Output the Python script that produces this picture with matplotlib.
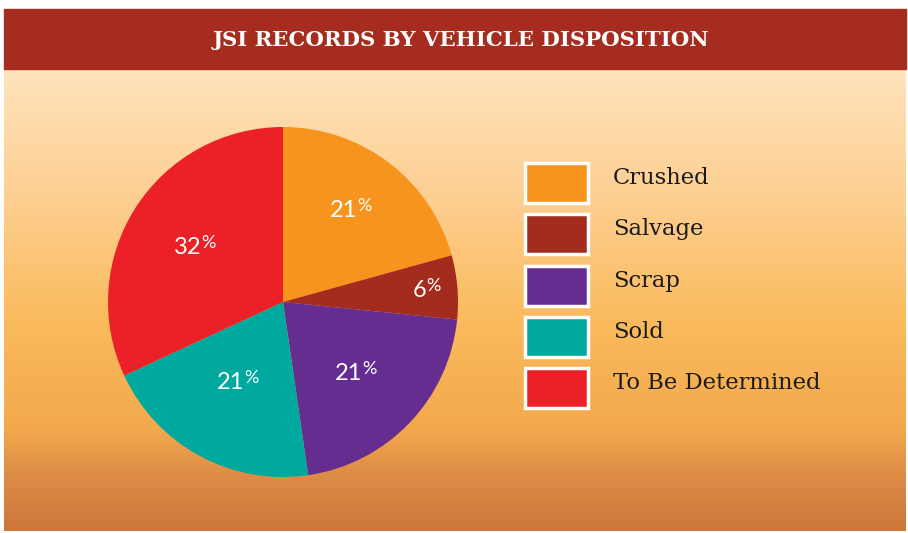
import numpy as np
import matplotlib
matplotlib.use("Agg")
import matplotlib.pyplot as plt
from matplotlib.colors import LinearSegmentedColormap
from matplotlib.patches import Rectangle

title = "JSI RECORDS BY VEHICLE DISPOSITION"
labels = ["Crushed", "Salvage", "Scrap", "Sold", "To Be Determined"]
shares = [20.7, 5.9, 21.1, 20.4, 31.9]
pct_text = ["21", "6", "21", "21", "32"]
colors = ["#F7941D", "#A42C1E", "#662D91", "#00A99D", "#EC2027"]

W, H = 908, 533
fig = plt.figure(figsize=(W / 100, H / 100), dpi=100)
ax = fig.add_axes([0, 0, 1, 1])

# background gradient (light peach at top -> burnt orange at bottom)
bg = LinearSegmentedColormap.from_list("bg", [
    (0.0, "#FFE3BC"), (0.25, "#FDD196"), (0.55, "#FABA5C"),
    (0.78, "#F2A94C"), (0.88, "#DD8C46"), (1.0, "#CE763B")])
grad = np.linspace(0, 1, 256).reshape(-1, 1)
ax.imshow(grad, cmap=bg, aspect="auto", extent=(4, 906, 2, H - 69), zorder=0)

# title bar
ax.add_patch(Rectangle((4, H - 69), 902, 60, color="#A52C1F", zorder=1))
ax.text(461, H - 40, title, color="white", fontsize=15.3, fontweight="bold",
        family="DejaVu Serif", ha="center", va="center", zorder=2)

# pie
cx, cy, r = 283, H - 302, 175
wedges, _ = ax.pie(shares, colors=colors, startangle=90, counterclock=False,
                   center=(cx, cy), radius=r, frame=True,
                   wedgeprops=dict(linewidth=0))
ax.set_xlim(0, W)
ax.set_ylim(0, H)
ax.set_aspect("equal")
ax.axis("off")

label_r = [0.66, 0.80, 0.59, 0.52, 0.58]
for w, t, lr in zip(wedges, pct_text, label_r):
    ang = np.deg2rad((w.theta1 + w.theta2) / 2)
    x = cx + lr * r * np.cos(ang)
    y = cy + lr * r * np.sin(ang)
    ax.annotate(t, (x, y), xytext=(3, 0), textcoords="offset points",
                ha="right", va="center", color="white", fontsize=17,
                family="Lato", zorder=3)
    ax.annotate("%", (x, y), xytext=(3, 9), textcoords="offset points",
                ha="left", va="top", color="white", fontsize=13,
                family="Lato", zorder=3)

# legend
for i, (lab, c) in enumerate(zip(labels, colors)):
    top = 163 + i * 51.3
    ax.add_patch(Rectangle((525, H - top - 40), 63, 40, facecolor=c,
                           edgecolor="white", linewidth=2.5, zorder=3))
    ax.text(613, H - top - 21, lab, color="#1a1a1a", fontsize=16.3,
            family="DejaVu Serif", ha="left", va="baseline", zorder=3)

fig.savefig("out.png", dpi=100, facecolor="white")
